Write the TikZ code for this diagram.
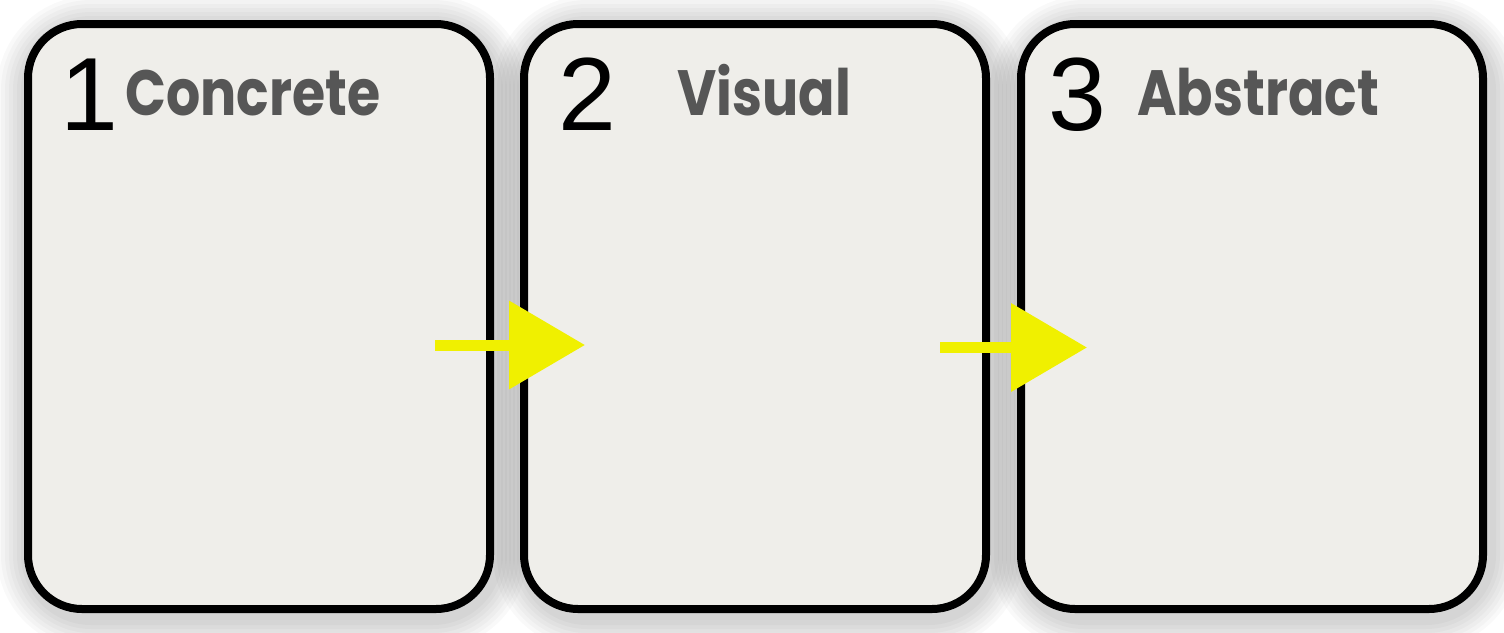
\documentclass[tikz,border=0pt]{standalone}
\usepackage{fontspec}
\setmainfont{Liberation Sans}
\newfontfamily\labfont{Poppins}
\usetikzlibrary{calc,backgrounds,arrows.meta}
\definecolor{boxfill}{HTML}{EFEEEA}
\definecolor{labgray}{HTML}{565656}
\definecolor{arrowyellow}{HTML}{F0F000}
\begin{document}
\begin{tikzpicture}[x=0.5pt,y=-0.5pt,
  box/.style={draw=black, line width=4pt, rounded corners=27pt, fill=boxfill,
    minimum width=231pt, minimum height=292.5pt, inner sep=0pt, outer sep=0pt},
  numtext/.style={anchor=base west, inner sep=0pt, font=\fontsize{52}{52}\selectfont, text=black},
  labtext/.style={anchor=base west, inner sep=0pt, xscale=0.84,
    font=\labfont\bfseries\fontsize{32}{32}\selectfont, text=labgray},
  flowarrow/.style={draw=arrowyellow, line width=5.5pt,
    -{Triangle[length=38pt,width=43pt,fill=arrowyellow]}},
  shadowline/.style={draw=black, rounded corners=30pt}
]
\useasboundingbox (0,0) rectangle (1504,632);

\node[box] (b1) at (259,316.5) {};
\node[box] (b2) at (755,316.5) {};
\node[box] (b3) at (1252,316.5) {};

\begin{scope}[on background layer]
  \fill[white] (0,0) rectangle (1504,632);
  \foreach \b in {b1,b2,b3}{
    \foreach \w in {34,30,26,22,18,14,10}{
      \draw[shadowline, line width=\w pt, draw opacity=0.022]
        ([shift={(3,6)}]\b.south west) rectangle ([shift={(3,6)}]\b.north east);
    }
  }
\end{scope}

\node[numtext] (n1) at (60,130) {1};
\node[labtext] (l1) at (125,115) {Concrete};
\node[numtext] (n2) at (558,130) {2};
\node[labtext] (l2) at (677,115) {Visual};
\node[numtext] (n3) at (1048,130) {3};
\node[labtext] (l3) at (1137,115) {Abstract};

\coordinate (a1s) at ($(b1.center)+(176,28.5)$);
\coordinate (a1t) at ($(b2.center)+(-170,28.5)$);
\coordinate (a2s) at ($(b2.center)+(185,31)$);
\coordinate (a2t) at ($(b3.center)+(-165,31)$);
\draw[flowarrow] (a1s) -- (a1t);
\draw[flowarrow] (a2s) -- (a2t);
\end{tikzpicture}
\end{document}
